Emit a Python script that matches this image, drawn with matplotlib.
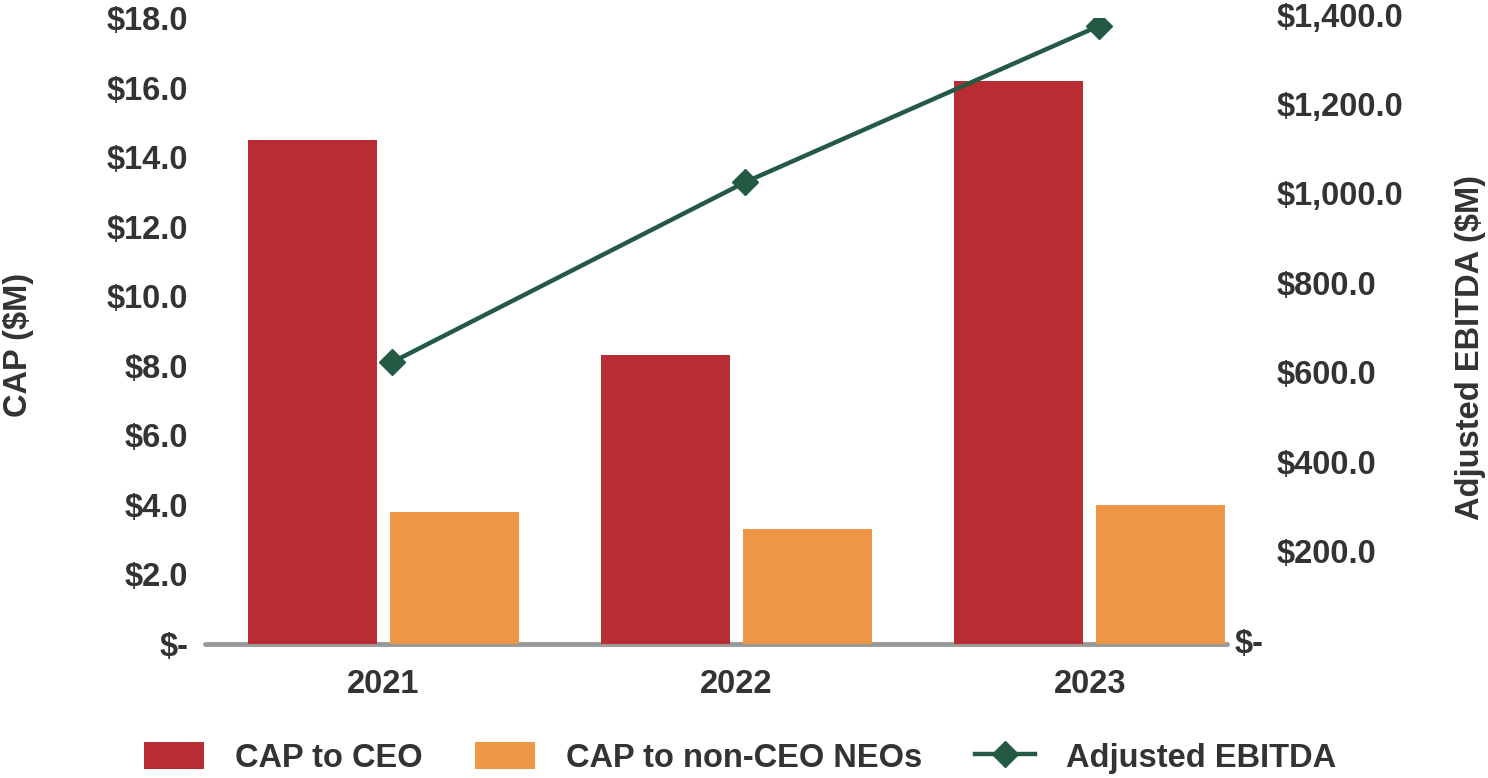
import matplotlib
matplotlib.use("Agg")
import matplotlib.pyplot as plt
import matplotlib.transforms as mtransforms
import numpy as np

plt.rcParams['font.family'] = ['Liberation Sans', 'DejaVu Sans']
plt.rcParams['font.weight'] = 'bold'

years = ['2021', '2022', '2023']
cap_ceo = [14.5, 8.3, 16.2]
cap_neo = [3.8, 3.3, 4.0]
ebitda = [630.0, 1033.0, 1382.0]

left_ticks = [0, 2, 4, 6, 8, 10, 12, 14, 16, 18]
right_ticks = [0, 200, 400, 600, 800, 1000, 1200, 1400]

red = '#b72d33'
orange = '#ee9747'
green = '#245a44'
txt = '#333333'
fs = 23.5

fig = plt.figure(figsize=(14.88, 7.78), dpi=100)
ax = fig.add_axes([205/1488, 1-644/778, (1227-205)/1488, (644-18)/778])
ax2 = ax.twinx()

x = np.arange(len(years))
w = 0.365
off = 0.201
b1 = ax.bar(x - off, cap_ceo, w, color=red, label='CAP to CEO', zorder=2)
b2 = ax.bar(x + off, cap_neo, w, color=orange, label='CAP to non-CEO NEOs', zorder=2)
ln, = ax2.plot(x + 0.025, ebitda, color=green, lw=3.2, marker='D', ms=13,
               label='Adjusted EBITDA', zorder=3)

ax.set_xlim(-0.504, 2.388)
ax.set_ylim(0, 18)
ax2.set_ylim(0, 1400)

for a in (ax, ax2):
    for s in a.spines.values():
        s.set_visible(False)
ax.spines['bottom'].set_visible(True)
ax.spines['bottom'].set_color('#999999')
ax.spines['bottom'].set_linewidth(3.5)
ax.spines['bottom'].set_capstyle('round')
ax.spines['bottom'].set_zorder(1)

ax.set_xticks(x)
ax.set_xticklabels(years, fontsize=fs, color=txt, fontweight='bold')
ax.tick_params(axis='x', length=0, pad=18)

ax.set_yticks(left_ticks)
ax.set_yticklabels(['$-' if v == 0 else '${:.1f}'.format(v) for v in left_ticks],
                   fontsize=fs, color=txt, fontweight='bold')
ax.tick_params(axis='y', length=0, pad=12)

ax2.set_yticks([])
base = ax2.get_yaxis_transform()
for v in right_ticks:
    if v == 0:
        tr = mtransforms.offset_copy(base, fig=fig, x=8, y=0, units='dots')
        lab = '$-'
    else:
        tr = mtransforms.offset_copy(base, fig=fig, x=50, y=0, units='dots')
        lab = '${:,.1f}'.format(v)
    ax2.text(1.0, v, lab, transform=tr, ha='left', va='center',
             fontsize=fs, color=txt, fontweight='bold', clip_on=False)

fig.text(18/1488, 1-345/778, 'CAP ($M)', rotation=90, ha='center', va='center',
         fontsize=fs, color=txt, fontweight='bold')
fig.text(1470/1488, 1-347/778, 'Adjusted EBITDA ($M)', rotation=90, ha='center',
         va='center', fontsize=fs, color=txt, fontweight='bold')

leg = fig.legend([b1, b2, ln], ['CAP to CEO', 'CAP to non-CEO NEOs', 'Adjusted EBITDA'],
                 loc='center', bbox_to_anchor=(740/1488, 1-758/778), ncol=3,
                 frameon=False, fontsize=fs, handlelength=1.85, handleheight=0.9,
                 handletextpad=0.95, columnspacing=1.6)
for t in leg.get_texts():
    t.set_color(txt)

fig.savefig('out.png', dpi=100)
